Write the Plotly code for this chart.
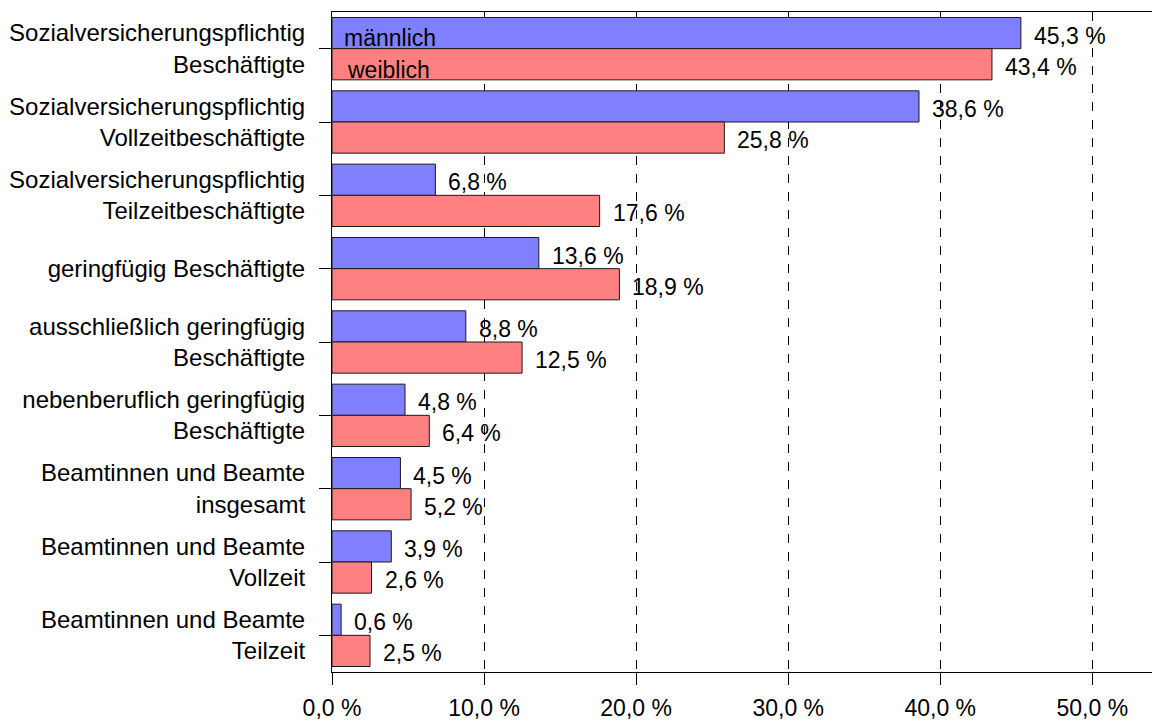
import plotly.graph_objects as go

categories = [
    "Sozialversicherungspflichtig<br>Beschäftigte",
    "Sozialversicherungspflichtig<br>Vollzeitbeschäftigte",
    "Sozialversicherungspflichtig<br>Teilzeitbeschäftigte",
    "geringfügig Beschäftigte",
    "ausschließlich geringfügig<br>Beschäftigte",
    "nebenberuflich geringfügig<br>Beschäftigte",
    "Beamtinnen und Beamte<br>insgesamt",
    "Beamtinnen und Beamte<br>Vollzeit",
    "Beamtinnen und Beamte<br>Teilzeit",
]
maennlich = [45.3, 38.6, 6.8, 13.6, 8.8, 4.8, 4.5, 3.9, 0.6]
weiblich = [43.4, 25.8, 17.6, 18.9, 12.5, 6.4, 5.2, 2.6, 2.5]
tick_vals = [0, 10, 20, 30, 40, 50]
tick_text = ["0,0 %", "10,0 %", "20,0 %", "30,0 %", "40,0 %", "50,0 %"]

FONT = "Liberation Sans, Arial, sans-serif"


def fmt(v):
    return f"{v:.1f}".replace(".", ",") + " %"


fig = go.Figure()
fig.add_trace(go.Bar(
    y=categories, x=maennlich, orientation="h", name="männlich",
    marker=dict(color="#8080FF", line=dict(color="#1a1a1a", width=1)),
))
fig.add_trace(go.Bar(
    y=categories, x=weiblich, orientation="h", name="weiblich",
    marker=dict(color="#FF8080", line=dict(color="#1a1a1a", width=1)),
))

# value labels, a bit right of and below each bar's centre
for vals, ys in ((maennlich, 13), (weiblich, -18)):
    for cat, v in zip(categories, vals):
        fig.add_annotation(x=v, y=cat, xref="x", yref="y", text=fmt(v),
                           xanchor="left", showarrow=False, xshift=11, yshift=ys,
                           font=dict(size=23, color="black"))

fig.add_annotation(x=0, y=categories[0], xref="x", yref="y", text="männlich",
                   xanchor="left", showarrow=False, xshift=10, yshift=11,
                   font=dict(size=23, color="black"))
fig.add_annotation(x=0, y=categories[0], xref="x", yref="y", text="weiblich",
                   xanchor="left", showarrow=False, xshift=13, yshift=-21,
                   font=dict(size=23, color="black"))

# the page body adds 8px, so the figure is 8px smaller and margins shifted
fig.update_layout(
    width=1152, height=714,
    margin=dict(l=324, r=0, t=4, b=50),
    paper_bgcolor="white", plot_bgcolor="white",
    font=dict(family=FONT, size=23, color="black"),
    barmode="group", bargap=0.15, bargroupgap=0,
    showlegend=False,
)
fig.update_xaxes(
    range=[0, 54.45], tickvals=tick_vals, ticktext=tick_text,
    showgrid=True, gridcolor="black", gridwidth=1, griddash="dash",
    showline=True, linecolor="black", linewidth=1, mirror=True,
    ticks="outside", ticklen=12, tickcolor="black", ticklabelstandoff=3,
    zeroline=False, tickfont=dict(size=23), automargin=False,
)
fig.update_yaxes(
    autorange="reversed", showgrid=False,
    showline=True, linecolor="black", linewidth=1,
    ticks="outside", ticklen=12, tickcolor="black",
    ticklabelstandoff=9, tickfont=dict(size=24), automargin=False,
)

fig.write_html("out.html")
